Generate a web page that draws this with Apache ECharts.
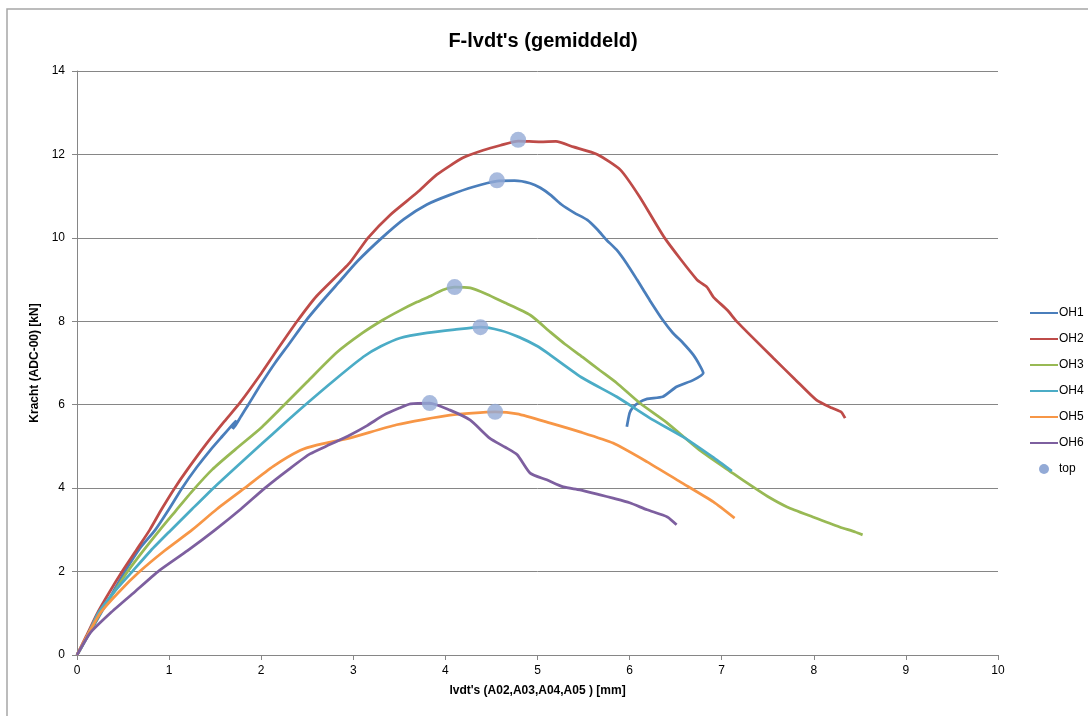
<!DOCTYPE html>
<html>
<head>
<meta charset="utf-8">
<script src="https://cdn.jsdelivr.net/npm/echarts@6/dist/echarts.min.js"></script>
<style>
  html, body { margin: 0; padding: 0; background: #fff; }
  #chart { width: 1088px; height: 716px; }
</style>
</head>
<body>
<div id="chart"></div>
<script>
// Force–displacement curves per specimen: [displacement mm, force kN]
const oh1 = [[0,0],[0.1,0.38],[0.22,0.85],[0.35,1.35],[0.52,2.0],[0.68,2.55],[0.85,3.0],[1.0,3.5],[1.14,4.0],[1.3,4.5],[1.45,4.92],[1.58,5.25],[1.66,5.45],[1.73,5.62],[1.69,5.42],[1.72,5.5],[1.78,5.72],[1.86,6.0],[2.0,6.5],[2.15,7.0],[2.3,7.45],[2.48,8.0],[2.65,8.45],[2.85,8.95],[3.05,9.45],[3.31,10.0],[3.55,10.45],[3.8,10.8],[4.05,11.03],[4.3,11.22],[4.56,11.36],[4.75,11.37],[4.92,11.31],[5.03,11.2],[5.14,11.03],[5.26,10.8],[5.4,10.6],[5.54,10.43],[5.65,10.2],[5.75,9.95],[5.86,9.71],[5.97,9.38],[6.08,9.0],[6.15,8.75],[6.22,8.5],[6.36,8.03],[6.47,7.72],[6.58,7.48],[6.69,7.2],[6.76,6.95],[6.80,6.76],[6.69,6.59],[6.51,6.43],[6.36,6.19],[6.19,6.14],[6.09,6.04],[6.03,5.92],[6.0,5.8],[5.97,5.47]];
const oh2 = [[0,0],[0.1,0.45],[0.22,1.0],[0.35,1.5],[0.49,2.0],[0.64,2.5],[0.79,3.0],[0.92,3.5],[1.06,4.0],[1.2,4.45],[1.4,5.05],[1.6,5.6],[1.77,6.05],[2.0,6.75],[2.2,7.4],[2.39,8.0],[2.6,8.6],[2.96,9.4],[3.16,10.0],[3.4,10.55],[3.69,11.08],[3.91,11.52],[4.19,11.92],[4.41,12.1],[4.6,12.22],[4.79,12.32],[5.03,12.3],[5.2,12.31],[5.39,12.18],[5.65,12.0],[5.9,11.63],[6.11,10.98],[6.38,10.0],[6.73,9.0],[6.84,8.82],[6.91,8.58],[7.06,8.27],[7.17,7.98],[7.56,7.12],[7.8,6.6],[8.03,6.11],[8.2,5.92],[8.3,5.82],[8.34,5.68]];
const oh3 = [[0,0],[0.1,0.4],[0.25,1.0],[0.4,1.5],[0.55,2.0],[0.72,2.5],[0.9,3.0],[1.07,3.45],[1.24,3.9],[1.47,4.45],[1.72,4.93],[2.0,5.45],[2.23,5.95],[2.5,6.55],[2.82,7.25],[3.1,7.72],[3.32,8.03],[3.5,8.25],[3.69,8.46],[3.85,8.62],[3.97,8.75],[4.1,8.82],[4.27,8.8],[4.45,8.65],[4.63,8.46],[4.92,8.15],[5.14,7.74],[5.3,7.45],[5.49,7.14],[5.68,6.82],[5.86,6.52],[6.11,6.04],[6.41,5.56],[6.76,4.91],[7.12,4.36],[7.34,4.03],[7.5,3.8],[7.71,3.55],[7.99,3.31],[8.28,3.07],[8.45,2.95],[8.53,2.88]];
const oh4 = [[0,0],[0.1,0.4],[0.23,1.0],[0.4,1.5],[0.6,2.0],[0.8,2.5],[1.0,2.95],[1.25,3.5],[1.48,4.0],[1.75,4.55],[2.0,5.05],[2.25,5.55],[2.48,6.0],[2.8,6.6],[3.11,7.15],[3.3,7.4],[3.51,7.6],[3.8,7.72],[4.1,7.8],[4.38,7.86],[4.6,7.78],[4.8,7.62],[5.0,7.4],[5.14,7.19],[5.49,6.64],[5.86,6.19],[6.22,5.68],[6.58,5.23],[6.9,4.75],[7.11,4.41]];
const oh5 = [[0,0],[0.1,0.42],[0.25,1.0],[0.45,1.5],[0.68,2.0],[0.95,2.5],[1.25,3.0],[1.52,3.5],[1.82,4.0],[2.13,4.52],[2.42,4.9],[2.6,5.03],[2.96,5.2],[3.47,5.52],[4.05,5.75],[4.54,5.83],[4.78,5.78],[5.14,5.56],[5.46,5.35],[5.82,5.08],[6.19,4.63],[6.55,4.15],[6.91,3.67],[7.14,3.28]];
const oh6 = [[0,0],[0.14,0.52],[0.36,1.0],[0.62,1.5],[0.88,2.0],[1.2,2.5],[1.5,3.0],[1.78,3.5],[2.04,4.0],[2.3,4.45],[2.53,4.82],[2.75,5.05],[2.96,5.27],[3.15,5.5],[3.33,5.75],[3.5,5.92],[3.62,6.02],[3.83,6.04],[4.05,5.87],[4.27,5.63],[4.48,5.2],[4.65,4.98],[4.78,4.8],[4.92,4.36],[5.1,4.2],[5.28,4.03],[5.46,3.96],[5.68,3.84],[5.82,3.76],[6.0,3.65],[6.19,3.48],[6.41,3.31],[6.51,3.12]];
// Peak force of each specimen
const peakPoints = [[4.79,12.35],[4.56,11.38],[4.10,8.82],[4.38,7.86],[3.83,6.04],[4.54,5.83]];

const seriesNames = ['OH1','OH2','OH3','OH4','OH5','OH6'];
const seriesData = [oh1, oh2, oh3, oh4, oh5, oh6];
const seriesColors = ['#4A7EBB','#BE4B48','#98B954','#4BACC6','#F79646','#7D5F9F'];

const font = '"Liberation Sans", "DejaVu Sans", sans-serif';
const chart = echarts.init(document.getElementById('chart'));

const lines = seriesNames.map((n, i) => ({
  name: n,
  type: 'line',
  data: seriesData[i],
  symbol: 'none',
  showSymbol: false,
  smooth: 0.2,
  color: seriesColors[i],
  lineStyle: { width: 2.75, color: seriesColors[i] },
  z: 2 + i,
  animation: false
}));

// Line entries show only the stroke; the peak entry keeps its dot
const legendData = seriesNames.map(n => ({ name: n, itemStyle: { opacity: 0 } }))
  .concat([{ name: 'top', itemStyle: { opacity: 1 } }]);

chart.setOption({
  animation: false,
  backgroundColor: '#fff',
  title: {
    text: "F-lvdt's (gemiddeld)",
    left: 538, top: 26, textAlign: 'center',
    textStyle: { fontFamily: font, fontSize: 20, fontWeight: 'bold', color: '#000' }
  },
  graphic: [{
    type: 'rect', silent: true,
    shape: { x: 7, y: 9, width: 1100, height: 720 },
    style: { fill: 'none', stroke: '#a6a6a6', lineWidth: 1.5 }
  }],
  legend: {
    orient: 'vertical', left: 1024, top: 302,
    itemWidth: 28, itemHeight: 10, itemGap: 14,
    textStyle: { fontFamily: font, fontSize: 12, color: '#000', padding: [0,0,0,-4] },
    data: legendData
  },
  grid: { left: 77, right: 90, top: 71, bottom: 61, containLabel: false },
  xAxis: {
    type: 'value', min: 0, max: 10, interval: 1,
    name: "lvdt's (A02,A03,A04,A05 ) [mm]", nameLocation: 'middle', nameGap: 30,
    nameTextStyle: { fontFamily: font, fontSize: 12, fontWeight: 'bold', color: '#000' },
    axisLine: { show: true, onZero: false, lineStyle: { color: '#868686', width: 1 } },
    axisTick: { show: true, length: 5, lineStyle: { color: '#868686' } },
    axisLabel: { fontFamily: font, fontSize: 12, color: '#000', margin: 10 },
    splitLine: { show: false }
  },
  yAxis: {
    type: 'value', min: 0, max: 14, interval: 2,
    name: 'Kracht (ADC-00) [kN]', nameLocation: 'middle', nameGap: 35, nameRotate: 90,
    nameTextStyle: { fontFamily: font, fontSize: 12, fontWeight: 'bold', color: '#000' },
    axisLine: { show: true, lineStyle: { color: '#868686', width: 1 } },
    axisTick: { show: true, length: 5, lineStyle: { color: '#868686' } },
    axisLabel: { fontFamily: font, fontSize: 12, color: '#000', margin: 12 },
    splitLine: { show: true, lineStyle: { color: '#868686', width: 1 } }
  },
  series: lines.concat([{
    name: 'top',
    type: 'scatter',
    data: peakPoints,
    symbol: 'circle',
    symbolSize: 16,
    color: '#93AAD6',
    itemStyle: { color: '#93AAD6' },
    z: 20
  }])
});
</script>
</body>
</html>
